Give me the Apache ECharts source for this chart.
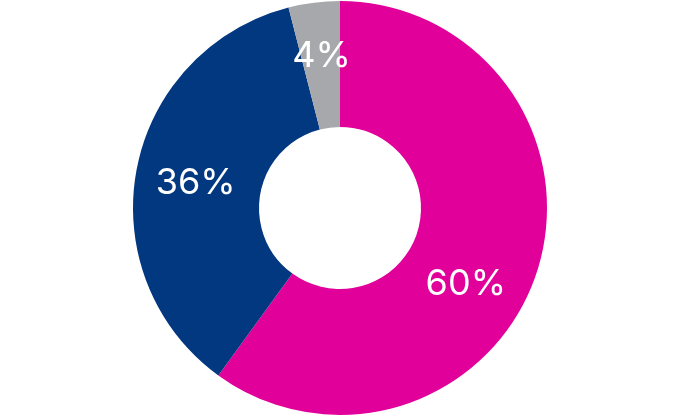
<!DOCTYPE html>
<html><head><meta charset="utf-8">
<script src="https://cdn.jsdelivr.net/npm/echarts@6/dist/echarts.min.js"></script>
<style>html,body{margin:0;padding:0;background:#fff}#c{width:680px;height:416px}</style>
</head><body><div id="c"></div>
<script>
const categories = ['A', 'B', 'C'];
const values = [60, 36, 4];
const labels = ['60%', '36%', '4%'];
const colors = ['#E1009A', '#02387F', '#A6A8AB'];
const labelOffsets = [[-14, 31], [0, 3], [0, -6]];

const chart = echarts.init(document.getElementById('c'));
chart.setOption({
  animation: false,
  series: [{
    type: 'pie',
    center: [340, 208],
    radius: [81, 207],
    startAngle: 90,
    clockwise: true,
    silent: true,
    label: {
      show: true,
      position: 'inside',
      color: '#fff',
      fontFamily: 'Inter',
      fontSize: 36,
      fontWeight: 400
    },
    labelLine: { show: false },
    data: values.map((v, i) => ({
      name: categories[i],
      value: v,
      itemStyle: { color: colors[i] },
      label: { formatter: labels[i], offset: labelOffsets[i] }
    }))
  }]
});
</script></body></html>
